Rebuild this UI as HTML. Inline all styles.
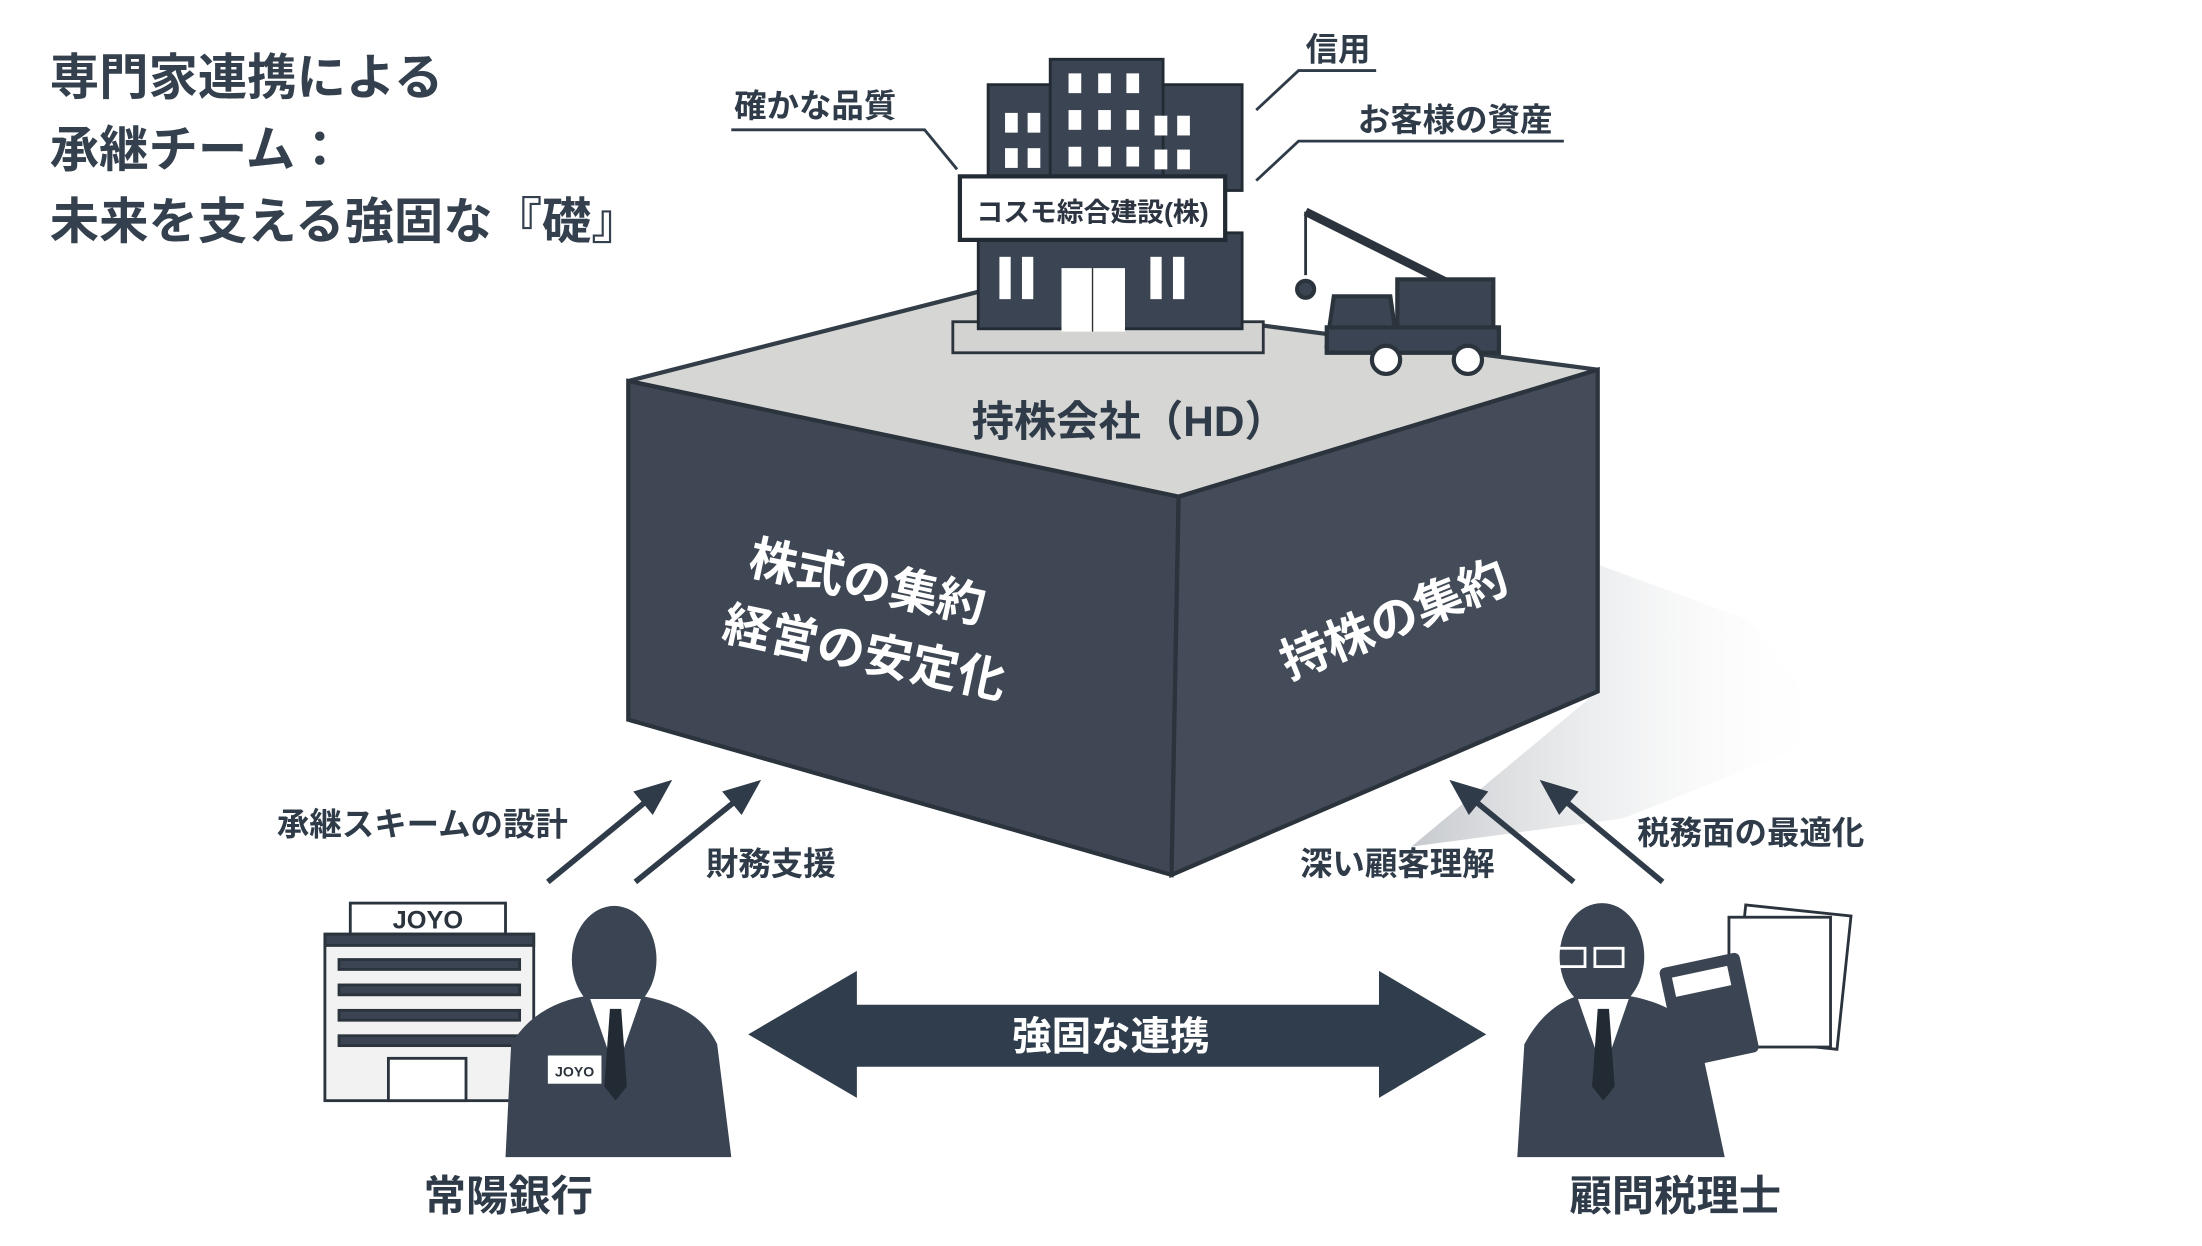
<!DOCTYPE html>
<html><head><meta charset="utf-8"><style>
html,body{margin:0;padding:0;background:#fff;}
svg{display:block;}
text{font-family:"Liberation Sans","Noto Sans CJK JP",sans-serif;font-weight:bold;}
</style></head><body>
<svg width="2202" height="1246" viewBox="0 0 1560 883" xmlns="http://www.w3.org/2000/svg">
<defs>
<linearGradient id="sh" x1="0" y1="0" x2="1" y2="0"><stop offset="0" stop-color="#b8bcc1"/><stop offset="1" stop-color="#fff" stop-opacity="0"/></linearGradient>
</defs>
<!-- title -->
<g fill="#34404d" font-size="35">
<text x="35" y="67">専門家連携による</text>
<text x="35" y="118">承継チーム：</text>
<text x="35" y="169">未来を支える強固な『礎』</text>
</g>
<!-- shadow -->
<polygon points="1132,400 1240,440 1300,520 1150,580 1000,600 1132,490" fill="url(#sh)" opacity="0.8"/>
<!-- cube -->
<polygon points="445,270 700,205 1132,262 835,352" fill="#d6d6d4" stroke="#333d48" stroke-width="3"/>
<polygon points="445,270 835,352 830,620 445,510" fill="#3e4753" stroke="#2b333d" stroke-width="3"/>
<polygon points="835,352 1132,262 1132,490 830,620" fill="#434c58" stroke="#2b333d" stroke-width="3"/>
<text x="800" y="309" font-size="30" fill="#2f3b48" text-anchor="middle">持株会社（HD）</text>
<g fill="#fff" font-size="34" text-anchor="middle">
<text transform="translate(612,424) rotate(12)">株式の集約</text>
<text transform="translate(610,474) rotate(12)">経営の安定化</text>
<text transform="translate(992,450) rotate(-22)">持株の集約</text>
</g>
<!-- building -->
<g>
<rect x="675" y="228" width="220" height="22" fill="#d3d3d1" stroke="#2b333d" stroke-width="2"/>
<rect x="700" y="60" width="180" height="75" fill="#3b4452" stroke="#222a33" stroke-width="2"/>
<rect x="744" y="42" width="80" height="95" fill="#3b4452" stroke="#222a33" stroke-width="2"/>
<g fill="#fff">
<rect x="757" y="52" width="9" height="14"/><rect x="778" y="52" width="9" height="14"/><rect x="798" y="52" width="9" height="14"/>
<rect x="757" y="78" width="9" height="14"/><rect x="778" y="78" width="9" height="14"/><rect x="798" y="78" width="9" height="14"/>
<rect x="757" y="104" width="9" height="14"/><rect x="778" y="104" width="9" height="14"/><rect x="798" y="104" width="9" height="14"/>
<rect x="712" y="80" width="9" height="14"/><rect x="728" y="80" width="9" height="14"/>
<rect x="712" y="105" width="9" height="14"/><rect x="728" y="105" width="9" height="14"/>
<rect x="818" y="82" width="9" height="14"/><rect x="834" y="82" width="9" height="14"/>
<rect x="818" y="106" width="9" height="14"/><rect x="834" y="106" width="9" height="14"/>
</g>
<rect x="693" y="165" width="187" height="68" fill="#3b4452" stroke="#222a33" stroke-width="2"/>
<rect x="680" y="125" width="188" height="45" fill="#fff" stroke="#222a33" stroke-width="3"/>
<text x="774" y="157" font-size="19" fill="#2b3440" text-anchor="middle">コスモ綜合建設(株)</text>
<g fill="#fff">
<rect x="708" y="182" width="8" height="30"/><rect x="724" y="182" width="8" height="30"/>
<rect x="752" y="190" width="45" height="45"/>
<rect x="815" y="182" width="8" height="30"/><rect x="831" y="182" width="8" height="30"/>
</g>
<line x1="774" y1="190" x2="774" y2="235" stroke="#333" stroke-width="1"/>
</g>
<!-- crane -->
<g stroke="#2b333d" stroke-width="3" fill="#3b4452">
<line x1="925" y1="150" x2="1025" y2="200" stroke-width="6"/>
<line x1="925" y1="150" x2="925" y2="195" stroke-width="2"/>
<circle cx="925" cy="205" r="6"/>
<rect x="990" y="198" width="68" height="40"/>
<polygon points="945,210 985,210 990,245 940,245"/>
<rect x="940" y="232" width="122" height="18"/>
<circle cx="982" cy="255" r="10" fill="#fff"/><circle cx="1040" cy="255" r="10" fill="#fff"/>
</g>
<!-- callouts -->
<g stroke="#2f3b48" stroke-width="2" fill="none">
<polyline points="518,92 655,92 678,120"/>
<polyline points="975,50 920,50 890,78"/>
<polyline points="1108,100 920,100 890,128"/>
</g>
<g fill="#2f3b48" font-size="23">
<text x="520" y="83">確かな品質</text>
<text x="925" y="43">信用</text>
<text x="962" y="93">お客様の資産</text>
<text x="196" y="592">承継スキームの設計</text>
<text x="500" y="620">財務支援</text>
<text x="921" y="620">深い顧客理解</text>
<text x="1160" y="598">税務面の最適化</text>
</g>
<!-- small arrows -->
<g stroke="#2f3b48" stroke-width="4" fill="#2f3b48">
<line x1="388" y1="625" x2="460" y2="566"/><polygon points="472,556 452,562 462,574" />
<line x1="450" y1="625" x2="523" y2="566"/><polygon points="535,556 515,562 525,574"/>
<line x1="1115" y1="625" x2="1043" y2="566"/><polygon points="1031,556 1051,562 1041,574"/>
<line x1="1178" y1="625" x2="1107" y2="566"/><polygon points="1095,556 1115,562 1105,574"/>
</g>
<!-- big double arrow -->
<polygon points="530,733 607,688 607,712 977,712 977,688 1053,733 977,778 977,756 607,756 607,778" fill="#2f3d4d"/>
<text x="787" y="744" font-size="28" fill="#fff" text-anchor="middle">強固な連携</text>
<!-- bank -->
<g stroke="#2b333d" stroke-width="2">
<rect x="248" y="640" width="110" height="22" fill="#fff"/>
<rect x="230" y="662" width="148" height="118" fill="#f2f2f2"/>
<rect x="230" y="662" width="148" height="8" fill="#3b4452"/>
<g fill="#3b4452"><rect x="240" y="680" width="128" height="7"/><rect x="240" y="698" width="128" height="7"/><rect x="240" y="716" width="128" height="7"/><rect x="240" y="734" width="128" height="7"/></g>
<rect x="275" y="750" width="55" height="30" fill="#fff"/>
</g>
<text x="303" y="658" font-size="18" fill="#2b333d" text-anchor="middle">JOYO</text>
<!-- bank person -->
<g fill="#3b4452">
<ellipse cx="435" cy="680" rx="30" ry="38"/>
<path d="M358,820 L362,740 Q380,710 420,705 L450,705 Q495,712 508,740 L518,820 Z"/>
</g>
<polygon points="418,708 436,760 454,708" fill="#fff"/>
<polygon points="432,715 440,715 444,770 436,780 428,770" fill="#222a33"/>
<rect x="388" y="748" width="38" height="20" fill="#fff"/>
<text x="407" y="763" font-size="10" fill="#2b333d" text-anchor="middle">JOYO</text>
<!-- tax person -->
<g fill="#3b4452">
<ellipse cx="1135" cy="678" rx="30" ry="38"/>
<path d="M1075,820 L1080,740 Q1095,712 1120,705 L1150,705 Q1195,712 1205,740 L1222,820 Z"/>
</g>
<g stroke="#fff" stroke-width="2" fill="none"><rect x="1103" y="672" width="20" height="13"/><rect x="1130" y="672" width="20" height="13"/></g>
<polygon points="1118,708 1136,760 1154,708" fill="#fff"/>
<polygon points="1132,715 1140,715 1144,770 1136,780 1128,770" fill="#222a33"/>
<g stroke="#2b333d" stroke-width="2" fill="#fff">
<rect x="1232" y="645" width="75" height="95" transform="rotate(6 1270 690)"/>
<rect x="1225" y="650" width="72" height="92"/>
</g>
<rect x="1182" y="680" width="58" height="72" rx="4" fill="#3b4452" transform="rotate(-12 1210 716)"/>
<rect x="1190" y="688" width="40" height="14" fill="#fff" transform="rotate(-12 1210 716)"/>
<g fill="#2f3b48" font-size="30" text-anchor="middle">
<text x="360" y="858">常陽銀行</text>
<text x="1187" y="858">顧問税理士</text>
</g>
</svg>
</body></html>
